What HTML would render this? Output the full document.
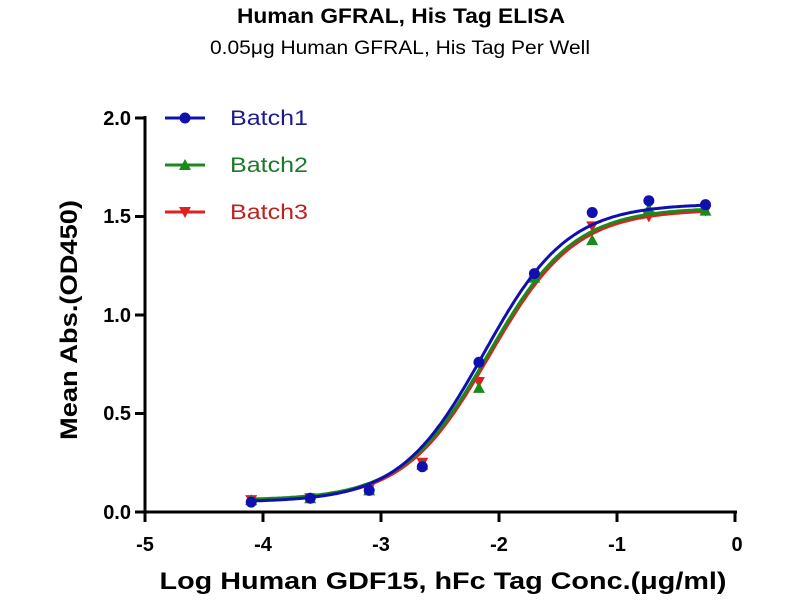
<!DOCTYPE html>
<html><head><meta charset="utf-8"><style>
body{margin:0;background:#fff;width:800px;height:600px;overflow:hidden}
svg text{font-family:"Liberation Sans",Arial,sans-serif}
</style></head><body>
<svg id="s" width="800" height="600" xmlns="http://www.w3.org/2000/svg">
<text x="401" y="23" text-anchor="middle" font-size="21" font-weight="bold" textLength="328" lengthAdjust="spacingAndGlyphs">Human GFRAL, His Tag ELISA</text>
<text x="400" y="54" text-anchor="middle" font-size="19" textLength="380" lengthAdjust="spacingAndGlyphs">0.05μg Human GFRAL, His Tag Per Well</text>
<g stroke="#000" stroke-width="3" fill="none">
<path d="M145,116V513M143,512H737"/>
<path d="M135,118H145M135,216.5H145M135,315H145M135,413.5H145M135,512H145"/>
<path d="M145,512V522M263,512V522M381,512V522M499,512V522M617,512V522M735,512V522"/>
</g>
<g font-size="20" font-weight="bold" text-anchor="end">
<text x="131" y="125">2.0</text><text x="131" y="223">1.5</text><text x="131" y="322">1.0</text><text x="131" y="420">0.5</text><text x="131" y="519">0.0</text>
</g>
<g font-size="20" font-weight="bold" text-anchor="middle">
<text x="145" y="551">-5</text><text x="263" y="551">-4</text><text x="381" y="551">-3</text><text x="499" y="551">-2</text><text x="617" y="551">-1</text><text x="737" y="551">0</text>
</g>
<text x="443" y="589" text-anchor="middle" font-size="24" font-weight="bold" textLength="567" lengthAdjust="spacingAndGlyphs">Log Human GDF15, hFc Tag Conc.(μg/ml)</text>
<text transform="translate(77,320) rotate(-90)" text-anchor="middle" font-size="24" font-weight="bold" textLength="240" lengthAdjust="spacingAndGlyphs">Mean Abs.(OD450)</text>
<g id="plot"></g>
<g font-size="21">
<text x="230" y="125" fill="#1a1a8c" textLength="78" lengthAdjust="spacingAndGlyphs">Batch1</text>
<text x="230" y="172" fill="#1a7a2a" textLength="78" lengthAdjust="spacingAndGlyphs">Batch2</text>
<text x="230" y="219" fill="#c02020" textLength="78" lengthAdjust="spacingAndGlyphs">Batch3</text>
</g>
</svg>
<script>
var X=function(v){return 145+(v+5)*118},Y=function(v){return 512-v*197};
var xs=[-4.1,-3.6,-3.1,-2.65,-2.17,-1.7,-1.21,-0.73,-0.25];
var S=[
{c:"#e02020",d:[0.06,0.07,0.12,0.25,0.66,1.17,1.45,1.50,1.53],b:0.055,t:1.535,e:-2.08,h:1.2,m:"tri-down",ly:212},
{c:"#1a8a1a",d:[0.06,0.07,0.11,0.24,0.63,1.19,1.38,1.54,1.53],b:0.06,t:1.545,e:-2.09,h:1.2,m:"tri",ly:165},
{c:"#1010b0",d:[0.05,0.07,0.11,0.23,0.76,1.21,1.52,1.58,1.56],b:0.05,t:1.565,e:-2.127,h:1.22,m:"circ",ly:118}];
var g=document.getElementById("plot"),h="";
function mk(m,x,y,c){if(m=="circ")return '<circle cx="'+x+'" cy="'+y+'" r="5.5" fill="'+c+'"/>';
if(m=="tri")return '<path d="M'+x+','+(y-6)+'L'+(x+6)+','+(y+5)+'L'+(x-6)+','+(y+5)+'Z" fill="'+c+'"/>';
return '<path d="M'+x+','+(y+6)+'L'+(x+6)+','+(y-5)+'L'+(x-6)+','+(y-5)+'Z" fill="'+c+'"/>';}
S.forEach(function(s){var p="";for(var x=-4.1;x<=-0.249;x+=0.02){var y=s.b+(s.t-s.b)/(1+Math.pow(10,(s.e-x)*s.h));p+=(p?"L":"M")+X(x).toFixed(1)+","+Y(y).toFixed(1);}
h+='<path d="'+p+'" stroke="'+s.c+'" stroke-width="3" fill="none"/>';
s.d.forEach(function(v,i){h+=mk(s.m,X(xs[i]),Y(v),s.c);});
h+='<path d="M165,'+s.ly+'H205" stroke="'+s.c+'" stroke-width="3"/>'+mk(s.m,185,s.ly,s.c);});
g.innerHTML=h;
</script>
</body></html>
